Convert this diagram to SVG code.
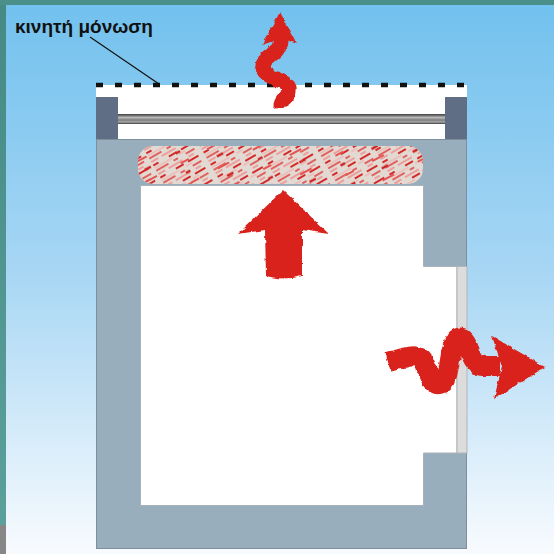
<svg xmlns="http://www.w3.org/2000/svg" width="554" height="554" viewBox="0 0 554 554">
  <style>
    .label { font-family: "Liberation Sans", Arial, sans-serif; font-weight: bold; font-size: 19px; fill: #111; }
    .heat { fill: #d9241c; }
    .heatline { fill: none; stroke: #d9241c; stroke-linecap: butt; stroke-linejoin: round; }
    .wall { fill: #99aebc; stroke: #7e8f9b; stroke-width: 1; }
    .slate { fill: #5f6e85; }
  </style>
  <defs>
    <linearGradient id="sky" x1="0" y1="0" x2="0" y2="1">
      <stop offset="0" stop-color="#72c1ee"/>
      <stop offset="0.5" stop-color="#a9d7f4"/>
      <stop offset="1" stop-color="#f8fbfe"/>
    </linearGradient>
    <linearGradient id="frame" x1="0" y1="0" x2="0" y2="1">
      <stop offset="0" stop-color="#468a86"/>
      <stop offset="1" stop-color="#5ca09c"/>
    </linearGradient>
    <linearGradient id="rod" x1="0" y1="0" x2="0" y2="1">
      <stop offset="0" stop-color="#3e3e3e"/>
      <stop offset="0.15" stop-color="#6e6e6e"/>
      <stop offset="0.35" stop-color="#b9b9b9"/>
      <stop offset="0.6" stop-color="#7e7e7e"/>
      <stop offset="0.8" stop-color="#a8a8a8"/>
      <stop offset="1" stop-color="#3e3e3e"/>
    </linearGradient>
    <pattern id="streaksA" width="50" height="14" patternUnits="userSpaceOnUse" patternTransform="rotate(-30)">
      <line x1="0" y1="2" x2="50" y2="2" stroke="#e03a3a" stroke-width="1.6" stroke-dasharray="14 6 5 9 10 6"/>
      <line x1="0" y1="6" x2="50" y2="6" stroke="#f08a8a" stroke-width="1.4" stroke-dasharray="8 4 16 7 6 9"/>
      <line x1="0" y1="10" x2="50" y2="10" stroke="#d42a2a" stroke-width="2.2" stroke-dasharray="6 12 9 5 12 6"/>
      <line x1="0" y1="13" x2="50" y2="13" stroke="#f4a5a5" stroke-width="1.2" stroke-dasharray="20 8 7 15"/>
    </pattern>
    <pattern id="streaksB" width="70" height="22" patternUnits="userSpaceOnUse" patternTransform="rotate(-28) translate(13 5)">
      <line x1="0" y1="4" x2="70" y2="4" stroke="#e55252" stroke-width="1.8" stroke-dasharray="9 21 13 27"/>
      <line x1="0" y1="15" x2="70" y2="15" stroke="#cf2525" stroke-width="2.6" stroke-dasharray="5 30 7 28"/>
    </pattern>
    <filter id="rough" x="-10%" y="-10%" width="120%" height="120%">
      <feTurbulence type="fractalNoise" baseFrequency="0.18" numOctaves="2" seed="3" result="n"/>
      <feDisplacementMap in="SourceGraphic" in2="n" scale="4" xChannelSelector="R" yChannelSelector="G"/>
    </filter>
  </defs>

  <!-- frame and sky -->
  <rect x="0" y="0" width="554" height="554" fill="#4b8f8b"/>
  <rect x="0" y="5" width="6" height="520" fill="url(#frame)"/>
  <rect x="0" y="525" width="6" height="29" fill="#878787"/>
  <rect x="6" y="5" width="548" height="549" fill="url(#sky)"/>

  <!-- oven body -->
  <g id="body">
    <rect class="wall" x="96.5" y="139.5" width="370" height="409"/>
    <path d="M140.5,185.5 H423.5 V266.5 H457 V453 H423.5 V505.5 H140.5 Z" fill="#ffffff" stroke="#a7b2ba" stroke-width="1"/>
  </g>

  <!-- movable lid insulation -->
  <g id="lid">
    <rect x="96" y="85" width="371" height="54" fill="#ffffff"/>
    <rect class="slate" x="96" y="97" width="22" height="42"/>
    <rect class="slate" x="445" y="97" width="22" height="42"/>
    <rect x="118" y="114" width="327" height="10" fill="url(#rod)"/>
    <line x1="96" y1="85" x2="467" y2="85" stroke="#111" stroke-width="4.5" stroke-dasharray="7 12"/>
  </g>

  <!-- heating element -->
  <g id="heater">
    <rect x="138" y="146" width="285" height="38" rx="15" fill="#e2dad2"/>
    <rect x="138" y="146" width="285" height="38" rx="15" fill="url(#streaksA)"/>
    <rect x="138" y="146" width="285" height="38" rx="15" fill="url(#streaksB)"/>
  </g>

  <!-- glass window -->
  <g id="window">
    <rect x="457" y="266.5" width="10" height="186.5" fill="#dcdcdc" stroke="#b4b4b4" stroke-width="1"/>
  </g>

  <!-- heat flows -->
  <g id="connectors" filter="url(#rough)">
    <path class="heat" d="M283,190 L329,234 L302,230 L302,276 Q284,281 266,276 L265,230 L238,234 Z"/>
    <path class="heatline" stroke-width="15" d="M281,38 C283,54 261,56 263,68 C265,80 292,79 289,92 C287,100 280,97 281,107"/>
    <path class="heat" d="M280,12 L297,44 L282,38 L262,45 Z"/>
    <path class="heatline" stroke-width="20" d="M388,362 C408,357 418,352 424,362 C430,374 430,386 440,384 C452,382 448,342 458,338 C470,334 468,364 482,366 L500,366"/>
    <path class="heat" d="M545,367 L492,336 L502,366 L494,399 Z"/>
  </g>

  <!-- label -->
  <g id="label">
    <text class="label" x="15" y="33">κινητή μόνωση</text>
    <line x1="90" y1="37" x2="159" y2="84" stroke="#111" stroke-width="1.2"/>
  </g>
</svg>
